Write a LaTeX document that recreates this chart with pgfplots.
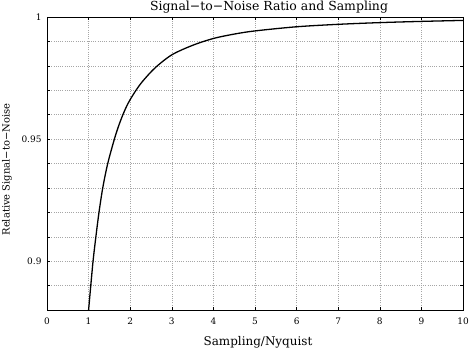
\documentclass[border=0pt]{standalone}
\usepackage{fontspec}
\setmainfont{DejaVu Serif}
\usepackage{pgfplots}
\pgfplotsset{compat=1.18}
\begin{document}
\begin{tikzpicture}
\begin{axis}[
  scale only axis,
  width=416bp, height=293bp,
  xmin=0, xmax=10, ymin=0.88, ymax=1,
  xtick={0,1,...,10},
  ytick={0.9,0.95,1},
  yticklabels={0.9,0.95,1},
  minor ytick={0.88,0.89,0.91,0.92,0.93,0.94,0.96,0.97,0.98,0.99},
  grid=both,
  major grid style={dash pattern=on 1bp off 1.2bp, gray!70, line width=0.45pt},
  minor grid style={dash pattern=on 1bp off 1.2bp, gray!70, line width=0.45pt},
  tick align=inside,
  major tick length=3bp,
  minor tick length=3bp,
  tick style={black, line width=0.5pt},
  axis line style={line width=0.6pt},
  ticklabel style={font=\fontsize{9}{10}\selectfont},
  xticklabel style={yshift=-4bp},
  yticklabel style={xshift=-2bp},
  /pgf/number format/assume math mode=true,
  title={Signal−to−Noise Ratio and Sampling},
  title style={font=\fontsize{12.5}{14}\selectfont, at={(axis description cs:0.5,1)}, anchor=center, yshift=4bp, xshift=14bp},
  xlabel={Sampling/Nyquist},
  ylabel={Relative Signal−to−Noise},
  xlabel style={font=\fontsize{12}{14}\selectfont, at={(axis description cs:0.5,0)}, anchor=center, yshift=-32bp, xshift=3bp},
  ylabel style={font=\fontsize{10}{12}\selectfont, at={(axis description cs:0,0.5)}, anchor=center, yshift=40bp, xshift=-6bp},
]
\addplot[black, line width=1.3pt, smooth, tension=0.5] coordinates {
(1.000,0.8800) (1.055,0.8905) (1.110,0.9005) (1.175,0.9100) (1.250,0.9200)
(1.340,0.9300) (1.460,0.9400) (1.620,0.9500) (1.720,0.9553) (1.820,0.9598)
(1.910,0.9633) (2.000,0.9662) (2.140,0.9700) (2.300,0.9737) (2.600,0.9792)
(3.000,0.9845) (3.500,0.9884) (4.000,0.9912) (4.500,0.9930) (5.000,0.9943)
(6.000,0.9960) (7.000,0.9970) (8.000,0.9977) (9.000,0.9982) (10.000,0.9986)
};
\end{axis}
\pgfresetboundingbox
\path (-47bp,-39bp) rectangle (422bp,310bp);
\end{tikzpicture}
\end{document}
